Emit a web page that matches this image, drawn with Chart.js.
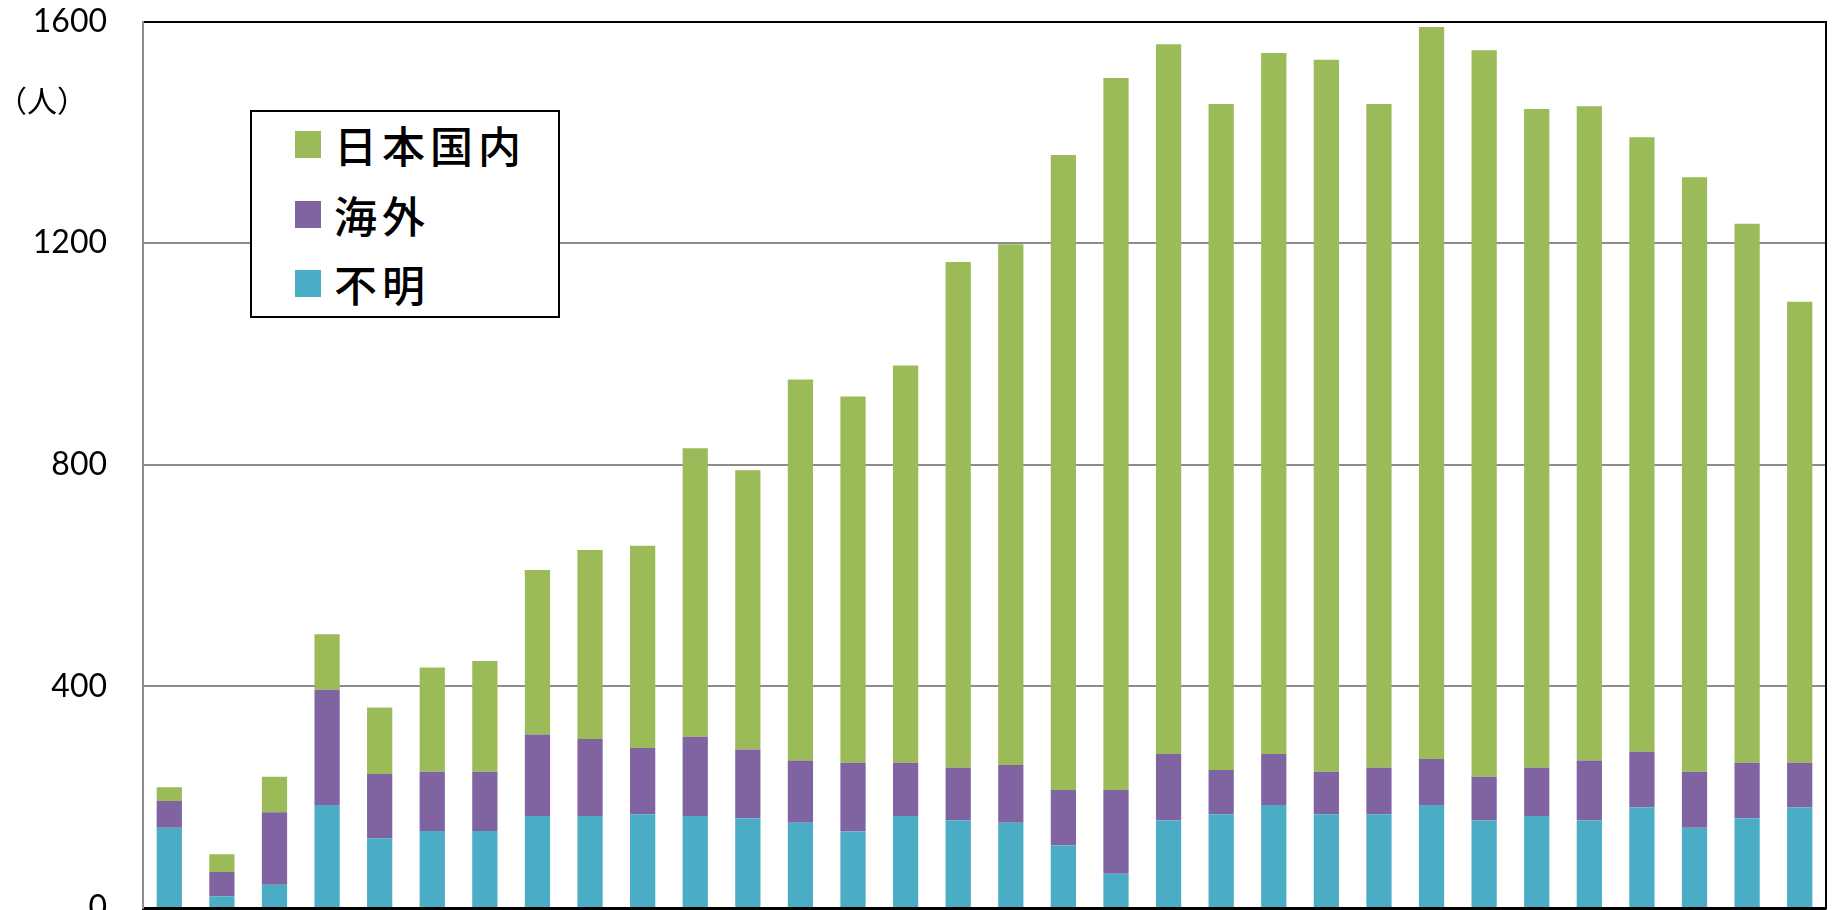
<!DOCTYPE html>
<html><head><meta charset="utf-8">
<script src="https://cdn.jsdelivr.net/npm/chart.js@4"></script>
<style>
html,body{margin:0;padding:0;background:#fff;overflow:hidden}
#wrap{position:relative;width:1835px;height:910px}
#c{position:absolute;left:0;top:0}
#unit{position:absolute;left:-3px;top:84px;font-family:"Noto Sans CJK JP";font-size:30px;line-height:1;color:#000;white-space:nowrap}
#legend{position:absolute;left:250px;top:110px;width:310px;height:208px;box-sizing:border-box;border:2px solid #000;background:#fff}
.item{position:absolute;left:43px;height:40px;display:flex;align-items:center}
.sw{width:26px;height:27px;margin-right:13px;flex:none}
.lt{font-family:"Noto Sans CJK JP";font-size:43px;letter-spacing:5px;color:#000;line-height:1;white-space:nowrap;font-weight:500}
</style></head><body>
<div id="wrap"><canvas id="c" width="1835" height="910"></canvas><div id="unit">（人）</div><div id="legend"></div></div>
<script>
const categories = ['1989','1990','1991','1992','1993','1994','1995','1996','1997','1998','1999','2000','2001','2002','2003','2004','2005','2006','2007','2008','2009','2010','2011','2012','2013','2014','2015','2016','2017','2018','2019','2020'];
const unknownCounts  = [145, 21, 42, 186, 126, 139, 139, 166, 166, 169, 166, 162, 154, 138, 166, 158, 154, 113, 62, 158, 169, 186, 169, 169, 186, 158, 166, 158, 182, 145, 162, 182];
const overseasCounts = [48, 44, 131, 208, 116, 107, 107, 147, 139, 120, 143, 124, 112, 124, 96, 95, 104, 100, 151, 120, 80, 92, 77, 84, 83, 79, 87, 108, 100, 101, 100, 80];
const domesticCounts = [25, 32, 64, 100, 120, 188, 200, 297, 341, 365, 521, 504, 688, 661, 717, 913, 940, 1146, 1285, 1281, 1202, 1265, 1285, 1198, 1321, 1311, 1189, 1181, 1109, 1073, 973, 832];
const seriesNames  = ['不明', '海外', '日本国内'];
const seriesColors = ['#4BACC6', '#8064A2', '#9BBB59'];
const yMin = 0, yMax = 1600, yStep = 400;

const seriesValues = [unknownCounts, overseasCounts, domesticCounts];
const datasets = seriesNames.map((name, i) => ({
  label: name,
  data: seriesValues[i],
  backgroundColor: seriesColors[i],
  borderWidth: 0,
  stack: 's',
  barPercentage: 0.48,
  categoryPercentage: 1.0
}));

const chart = new Chart(document.getElementById('c'), {
  type: 'bar',
  data: { labels: categories, datasets: datasets },
  options: {
    responsive: false,
    animation: false,
    layout: { padding: { top: 21.5, right: 0, bottom: 0, left: 0 } },
    plugins: { legend: { display: false }, tooltip: { enabled: false }, title: { display: false } },
    scales: {
      x: {
        stacked: true,
        ticks: { display: false },
        grid: { display: true, drawOnChartArea: false, drawTicks: true, tickLength: 10, color: '#000', lineWidth: 1.5, offset: true },
        border: { display: true, color: '#000', width: 3 },
        afterFit: s => { s.height = 2; }
      },
      y: {
        stacked: true,
        min: yMin, max: yMax,
        ticks: { stepSize: yStep, padding: 36, color: '#000', font: { family: 'Lato', size: 32 }, callback: v => String(v) },
        grid: { drawTicks: false, color: c => (c.tick && c.tick.value === yMax) ? '#000' : '#8c8c8c', lineWidth: 2 },
        border: { display: true, color: '#8c8c8c', width: 2 },
        afterFit: s => { s.width = 143; s.paddingTop = 0; s.paddingBottom = 0; }
      },
      y2: {
        position: 'right',
        display: true,
        min: yMin, max: yMax,
        ticks: { display: false },
        grid: { drawOnChartArea: false, drawTicks: false },
        border: { display: true, color: '#000', width: 2 },
        afterFit: s => { s.width = 9; s.paddingTop = 0; s.paddingBottom = 0; }
      }
    }
  }
});

// HTML legend built from the datasets (reverse order: top of stack first)
const legend = document.getElementById('legend');
const order = chart.data.datasets.map((d, i) => i).reverse();
order.forEach((di, row) => {
  const ds = chart.data.datasets[di];
  const item = document.createElement('div');
  item.className = 'item';
  item.style.top = (12.5 + row * 69.5) + 'px';
  const sw = document.createElement('div');
  sw.className = 'sw';
  sw.style.background = ds.backgroundColor;
  const t = document.createElement('span');
  t.className = 'lt';
  t.textContent = ds.label;
  item.appendChild(sw); item.appendChild(t);
  legend.appendChild(item);
});
</script>
</body></html>
